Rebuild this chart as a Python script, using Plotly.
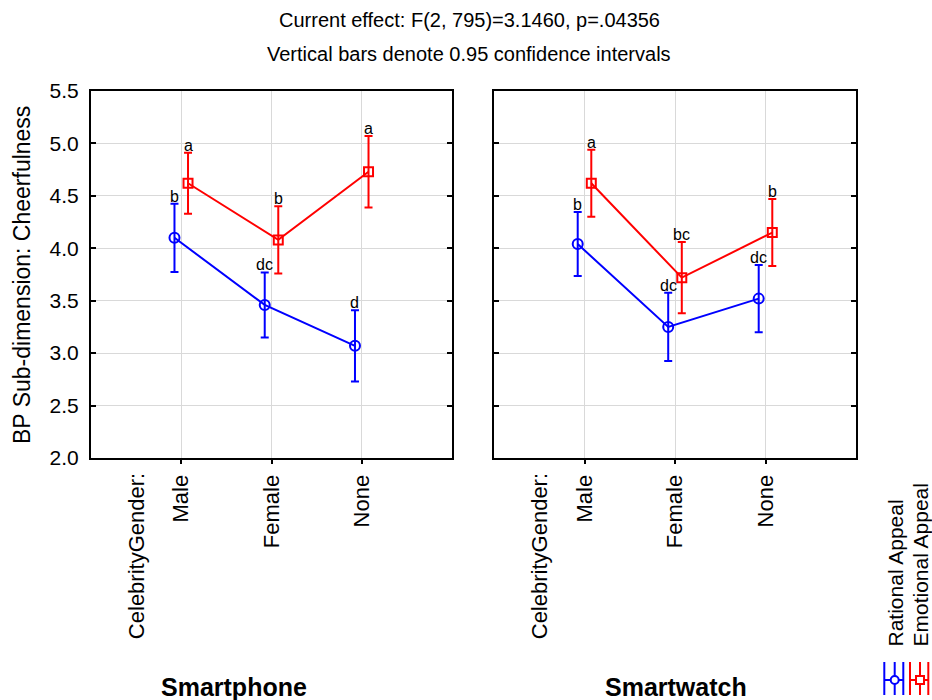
import plotly.graph_objects as go

# ---- data -------------------------------------------------------------
categories = ["Male", "Female", "None"]
factor_label = "CelebrityGender:"
panels = ["Smartphone", "Smartwatch"]
series_names = ["Rational Appeal", "Emotional Appeal"]

rational_phone_mean = [4.10, 3.46, 3.07]
rational_phone_ci = [0.325, 0.31, 0.34]
emotional_phone_mean = [4.62, 4.08, 4.73]
emotional_phone_ci = [0.29, 0.32, 0.34]

rational_watch_mean = [4.04, 3.25, 3.52]
rational_watch_ci = [0.305, 0.325, 0.32]
emotional_watch_mean = [4.62, 3.72, 4.15]
emotional_watch_ci = [0.32, 0.34, 0.32]

rational_phone_groups = ["b", "dc", "d"]
emotional_phone_groups = ["a", "b", "a"]
rational_watch_groups = ["b", "dc", "dc"]
emotional_watch_groups = ["a", "bc", "b"]

y_ticks = [2.0, 2.5, 3.0, 3.5, 4.0, 4.5, 5.0, 5.5]

title_lines = ["Current effect: F(2, 795)=3.1460, p=.04356",
               "Vertical bars denote 0.95 confidence intervals"]
y_title = "BP Sub-dimension: Cheerfulness"

# ---- styling ----------------------------------------------------------
W, H = 932, 700
FONT = "Liberation Sans, Arial, sans-serif"
BLUE, RED = "#0000FF", "#FF0000"
GRID = "#d9d9d9"


def px(x):
    return x / W


def py(y):
    return 1 - y / H


series_style = [
    dict(color=BLUE, symbol="circle-open", size=10, offset=-0.075),
    dict(color=RED, symbol="square-open", size=9, offset=0.075),
]

panel_data = [
    ([rational_phone_mean, emotional_phone_mean],
     [rational_phone_ci, emotional_phone_ci],
     [rational_phone_groups, emotional_phone_groups]),
    ([rational_watch_mean, emotional_watch_mean],
     [rational_watch_ci, emotional_watch_ci],
     [rational_watch_groups, emotional_watch_groups]),
]

x_domains = [[px(91), px(452)], [px(494), px(856)]]
y_domain = [py(458), py(91)]
panel_title_x = [234, 676]

fig = go.Figure()
annotations = []
cat_pos = [i + 1 for i in range(len(categories))]

for p, (means, cis, groups) in enumerate(panel_data):
    xa = "x" if p == 0 else "x2"
    ya = "y" if p == 0 else "y2"
    for s, style in enumerate(series_style):
        xs = [c + style["offset"] for c in cat_pos]
        fig.add_trace(go.Scatter(
            x=xs, y=means[s], xaxis=xa, yaxis=ya,
            mode="lines+markers", name=series_names[s], showlegend=False,
            line=dict(color=style["color"], width=2),
            marker=dict(symbol=style["symbol"], size=style["size"],
                        color=style["color"], line=dict(width=2, color=style["color"])),
            error_y=dict(type="data", array=cis[s], visible=True,
                         color=style["color"], thickness=2, width=4),
        ))
        for xv, m, c, g in zip(xs, means[s], cis[s], groups[s]):
            annotations.append(dict(
                x=xv, y=m + c, xref=xa, yref=ya, text=g, showarrow=False,
                xanchor="center", yanchor="bottom", yshift=-3,
                font=dict(family=FONT, size=16, color="black")))
    # factor name beneath the category axis
    annotations.append(dict(
        x=0.5, y=py(471), xref=xa, yref="paper", text=factor_label,
        textangle=-90, showarrow=False, xanchor="center", yanchor="top",
        font=dict(family=FONT, size=22, color="black")))
    # panel caption
    annotations.append(dict(
        x=px(panel_title_x[p]), y=py(687), xref="paper", yref="paper",
        text="<b>" + panels[p] + "</b>", showarrow=False,
        xanchor="center", yanchor="middle",
        font=dict(family=FONT, size=25, color="black")))

# figure title lines
for i, line in enumerate(title_lines):
    annotations.append(dict(
        x=px(469), y=py(20 + 34 * i), xref="paper", yref="paper", text=line,
        showarrow=False, xanchor="center", yanchor="middle",
        font=dict(family=FONT, size=20, color="black")))

# y-axis title
annotations.append(dict(
    x=px(22), y=py(275), xref="paper", yref="paper", text=y_title,
    textangle=-90, showarrow=False, xanchor="center", yanchor="middle",
    font=dict(family=FONT, size=23, color="black")))

# legend: rotated labels with rotated line/error-bar glyphs
legend_x = [895, 920]
glyph_cols = [(884.3, 894.7, 903.3), (910, 920, 928.3)]
shapes = []
for s, style in enumerate(series_style):
    annotations.append(dict(
        x=px(legend_x[s]), y=py(649), xref="paper", yref="paper",
        text=series_names[s], textangle=-90, showarrow=False,
        xanchor="center", yanchor="bottom",
        font=dict(family=FONT, size=21, color="black")))
    x0, xc, x1 = glyph_cols[s]
    for xv in (x0, xc, x1):
        shapes.append(dict(type="line", xref="paper", yref="paper",
                           x0=px(xv), x1=px(xv), y0=py(662), y1=py(695),
                           line=dict(color=style["color"], width=2)))
    shapes.append(dict(type="line", xref="paper", yref="paper",
                       x0=px(x0), x1=px(x1), y0=py(680), y1=py(680),
                       line=dict(color=style["color"], width=2)))
    shapes.append(dict(type="circle" if s == 0 else "rect",
                       xref="paper", yref="paper",
                       x0=px(xc - 4), x1=px(xc + 4), y0=py(684), y1=py(676),
                       fillcolor="white", line=dict(color=style["color"], width=2)))

axis_common = dict(showline=True, linecolor="black", linewidth=2,
                   showgrid=True, gridcolor=GRID, gridwidth=1, zeroline=False,
                   automargin=False)

for p in range(2):
    suffix = "" if p == 0 else "2"
    fig.layout["xaxis" + suffix] = dict(
        axis_common, domain=x_domains[p], range=[0, 4],
        tickmode="array", tickvals=cat_pos, ticktext=categories,
        tickangle=-90, ticks="outside", ticklen=4, tickwidth=1.5,
        tickcolor="black", mirror=True, anchor="y" + suffix,
        ticklabelstandoff=2,
        tickfont=dict(family=FONT, size=22, color="black"))
    fig.layout["yaxis" + suffix] = dict(
        axis_common, domain=y_domain, range=[2.0, 5.5],
        tickmode="array", tickvals=y_ticks,
        ticktext=[f"{v:.1f}" for v in y_ticks],
        ticks="inside", ticklen=5, tickwidth=1.5, tickcolor="black",
        mirror="ticks", anchor="x" + suffix, showticklabels=(p == 0),
        ticklabelstandoff=6,
        tickfont=dict(family=FONT, size=21, color="black"))

fig.update_layout(
    width=W, height=H, autosize=False,
    margin=dict(l=0, r=0, t=0, b=0, pad=0, autoexpand=False),
    paper_bgcolor="white", plot_bgcolor="white",
    annotations=annotations, shapes=shapes, showlegend=False,
    font=dict(family=FONT, color="black"),
)

fig.write_html("out.html")
